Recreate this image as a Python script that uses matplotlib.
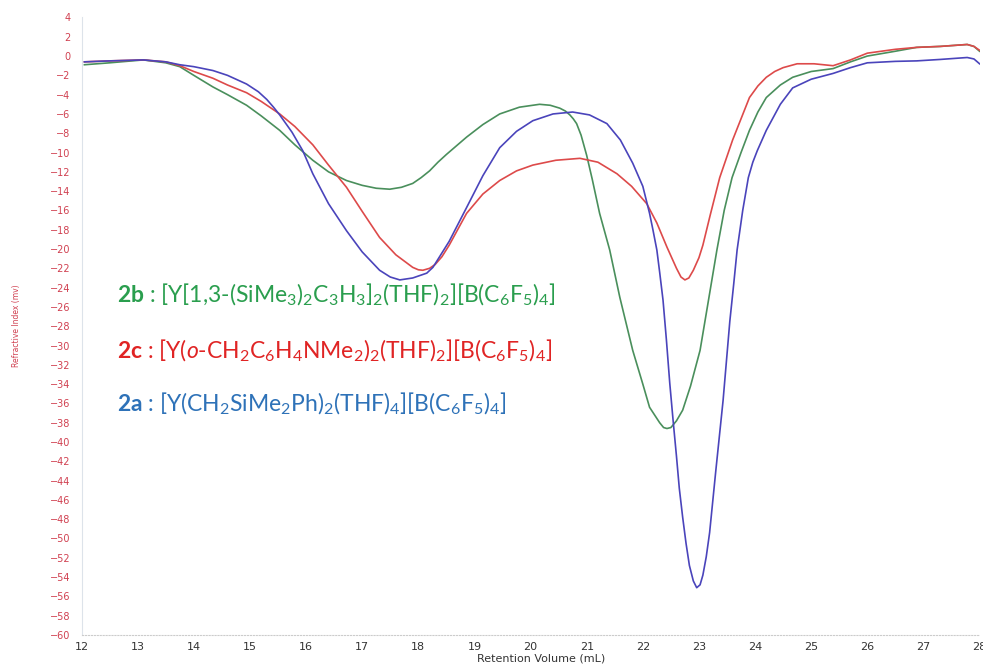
import matplotlib
matplotlib.use("Agg")
import matplotlib.pyplot as plt

plt.rcParams['mathtext.fontset'] = 'custom'
plt.rcParams['mathtext.rm'] = 'Lato'
plt.rcParams['mathtext.it'] = 'Lato:italic'
plt.rcParams['mathtext.bf'] = 'Lato:bold'

# 2b (green)
x_2b = [12.05, 12.5, 13.1, 13.5, 13.75, 14.0, 14.34, 14.6, 14.94, 15.2, 15.53, 15.8, 16.12, 16.4,
        16.72, 17.0, 17.25, 17.49, 17.7, 17.9, 18.05, 18.2, 18.35, 18.5, 18.86, 19.15, 19.45, 19.8,
        20.16, 20.35, 20.52, 20.62, 20.7, 20.76, 20.82, 20.9, 21.0, 21.1, 21.23, 21.41, 21.59, 21.82,
        22.0, 22.12, 22.3, 22.37, 22.43, 22.5, 22.6, 22.71, 22.85, 23.02, 23.15, 23.32, 23.45, 23.59,
        23.75, 23.9, 24.05, 24.2, 24.45, 24.67, 25.0, 25.39, 25.7, 26.0, 26.5, 26.88, 27.3, 27.78,
        27.9, 28.0]
y_2b = [-0.9, -0.7, -0.4, -0.7, -1.1, -2.0, -3.2, -4.0, -5.1, -6.2, -7.7, -9.2, -10.8, -12.0,
        -12.9, -13.4, -13.7, -13.8, -13.6, -13.2, -12.6, -11.9, -11.0, -10.2, -8.4, -7.1, -6.0, -5.3,
        -5.0, -5.1, -5.4, -5.7, -6.1, -6.5, -7.0, -8.2, -10.3, -12.8, -16.3, -20.1, -25.0, -30.5,
        -34.0, -36.4, -38.0, -38.5, -38.6, -38.5, -37.8, -36.7, -34.2, -30.5, -26.0, -20.1, -16.0, -12.6,
        -10.0, -7.7, -5.8, -4.3, -3.0, -2.2, -1.6, -1.3, -0.6, 0.0, 0.5, 0.9, 1.0, 1.2,
        1.0, 0.5]

# 2c (red)
x_2c = [12.05, 12.5, 13.1, 13.5, 13.75, 14.0, 14.34, 14.6, 14.94, 15.2, 15.53, 15.8, 16.12, 16.4,
        16.72, 17.0, 17.31, 17.6, 17.9, 18.0, 18.08, 18.2, 18.3, 18.42, 18.55, 18.7, 18.86, 19.15,
        19.45, 19.75, 20.04, 20.45, 20.88, 21.2, 21.54, 21.8, 22.07, 22.25, 22.43, 22.6, 22.68, 22.75,
        22.82, 22.9, 23.0, 23.07, 23.2, 23.37, 23.6, 23.9, 24.05, 24.2, 24.35, 24.5, 24.75, 25.05,
        25.39, 25.7, 26.0, 26.5, 26.88, 27.3, 27.78, 27.9, 28.0]
y_2c = [-0.6, -0.5, -0.4, -0.6, -1.0, -1.6, -2.3, -3.0, -3.8, -4.7, -6.0, -7.3, -9.2, -11.3,
        -13.6, -16.1, -18.8, -20.6, -21.9, -22.15, -22.2, -22.0, -21.6, -20.8, -19.6, -18.0, -16.3, -14.3,
        -12.9, -11.9, -11.3, -10.8, -10.6, -11.0, -12.2, -13.5, -15.3, -17.3, -19.8, -22.0, -22.9, -23.2,
        -23.0, -22.2, -20.9, -19.6, -16.5, -12.6, -8.7, -4.3, -3.1, -2.2, -1.6, -1.2, -0.8, -0.8,
        -1.0, -0.4, 0.3, 0.7, 0.9, 1.0, 1.2, 1.0, 0.6]

# 2a (blue)
x_2a = [12.05, 12.5, 13.1, 13.5, 13.75, 14.0, 14.34, 14.6, 14.94, 15.15, 15.3, 15.42, 15.53, 15.75,
        15.94, 16.12, 16.4, 16.72, 17.0, 17.31, 17.5, 17.67, 17.9, 18.15, 18.26, 18.55, 18.86, 19.15,
        19.45, 19.75, 20.04, 20.4, 20.75, 21.05, 21.36, 21.6, 21.82, 22.0, 22.12, 22.18, 22.25, 22.3,
        22.36, 22.42, 22.48, 22.54, 22.6, 22.65, 22.71, 22.77, 22.83, 22.9, 22.96, 23.02, 23.07, 23.13,
        23.19, 23.3, 23.43, 23.55, 23.62, 23.68, 23.78, 23.88, 23.96, 24.04, 24.2, 24.45, 24.67, 25.0,
        25.39, 25.7, 26.0, 26.5, 26.88, 27.3, 27.78, 27.9, 28.0]
y_2a = [-0.6, -0.5, -0.4, -0.6, -0.9, -1.1, -1.5, -2.0, -2.9, -3.7, -4.5, -5.3, -6.1, -7.9,
        -9.8, -12.2, -15.3, -18.1, -20.3, -22.2, -22.9, -23.2, -23.0, -22.5, -21.9, -19.2, -15.7, -12.4,
        -9.5, -7.8, -6.7, -6.0, -5.8, -6.1, -7.0, -8.7, -11.1, -13.5, -16.3, -18.0, -20.1, -22.4,
        -25.3, -29.4, -33.9, -37.8, -41.5, -44.8, -47.8, -50.5, -52.8, -54.4, -55.1, -54.8, -53.8, -51.9,
        -49.4, -43.0, -35.7, -27.5, -23.6, -20.1, -16.0, -12.6, -11.0, -9.8, -7.7, -5.0, -3.3, -2.4,
        -1.8, -1.2, -0.7, -0.55, -0.5, -0.35, -0.15, -0.3, -0.8]

x_ticks = list(range(12, 29))
y_ticks = list(range(-60, 5, 2))

fig = plt.figure(figsize=(9.83, 6.64), dpi=100)
ax = fig.add_axes([0.083, 0.0437, 0.9135, 0.930])

ax.plot(x_2b, y_2b, color='#4a8f5c', lw=1.2)
ax.plot(x_2c, y_2c, color='#dd4a4a', lw=1.2)
ax.plot(x_2a, y_2a, color='#4a44bb', lw=1.2)

ax.set_xlim(12, 28)
ax.set_ylim(-60, 4)
ax.set_xticks(x_ticks)
ax.set_yticks(y_ticks)
ax.tick_params(axis='x', length=0, labelsize=8, labelcolor='#333333', pad=5)
ax.tick_params(axis='y', length=0, labelsize=7, labelcolor='#d04050', pad=8)
for s in ['top', 'right']:
    ax.spines[s].set_visible(False)
ax.spines['left'].set_color('#dde3ea')
ax.spines['bottom'].set_color('#cccccc')
ax.spines['bottom'].set_linestyle(':')

fig.text(0.55, 0.001, 'Retention Volume (mL)', fontsize=8, color='#333333', ha='center', va='bottom')
fig.text(0.017, 0.51, 'Refractive Index (mv)', fontsize=5.5, color='#d04050', rotation=90,
         ha='center', va='center')

ax.text(12.63, -24.8, r'$\mathbf{2b}$ : [Y[1,3-(SiMe$_3$)$_2$C$_3$H$_3$]$_2$(THF)$_2$][B(C$_6$F$_5$)$_4$]',
        fontsize=16.5, family='Lato', color='#2a9e4e', va='center')
ax.text(12.63, -30.6, r'$\mathbf{2c}$ : [Y($\mathit{o}$-CH$_2$C$_6$H$_4$NMe$_2$)$_2$(THF)$_2$][B(C$_6$F$_5$)$_4$]',
        fontsize=16.5, family='Lato', color='#e02424', va='center')
ax.text(12.63, -36.1, r'$\mathbf{2a}$ : [Y(CH$_2$SiMe$_2$Ph)$_2$(THF)$_4$][B(C$_6$F$_5$)$_4$]',
        fontsize=16.5, family='Lato', color='#2e72b8', va='center')

fig.savefig('out.png', dpi=100)
